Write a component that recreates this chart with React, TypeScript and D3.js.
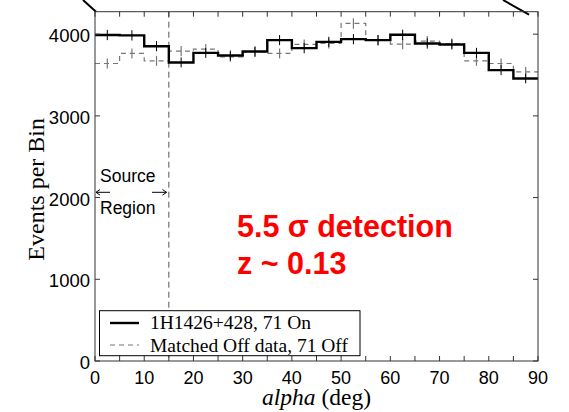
import React from "react";
import * as d3 from "d3";

// Bin lower edges (deg), bin width 5
const binEdges = [0, 5, 10, 15, 20, 25, 30, 35, 40, 45, 50, 55, 60, 65, 70, 75, 80, 85];
const binWidth = 5;
// On-source counts per bin
const onCounts = [3990, 3985, 3853, 3654, 3771, 3739, 3788, 3927, 3829, 3906, 3939, 3927, 3992, 3886, 3874, 3771, 3560, 3458];
const onErr = [63, 63, 62, 61, 61, 61, 61, 62, 63, 62, 62, 63, 63, 63, 62, 62, 61, 60];
// Matched Off data counts per bin
const offCounts = [3641, 3764, 3674, 3792, 3817, 3722, 3784, 3764, 3874, 3886, 4131, 3927, 3878, 3914, 3886, 3674, 3641, 3539];
const offErr = [60, 61, 61, 62, 62, 61, 62, 61, 62, 62, 64, 63, 62, 63, 62, 61, 60, 59];

const xTicks = [0, 10, 20, 30, 40, 50, 60, 70, 80, 90];
const xMinorTicks = [5, 15, 25, 35, 45, 55, 65, 75, 85];
const yTicks = [0, 1000, 2000, 3000, 4000];
const cutValue = 15;

const legendLabels = ["1H1426+428, 71 On", "Matched Off data, 71 Off"];
const annotation = ["5.5 \u03c3 detection", "z ~ 0.13"];

export default function App() {
  const left = 95, right = 538, top = 11.7, bottom = 361;
  const x = d3.scaleLinear().domain([0, 90]).range([left, right]);
  const y = d3.scaleLinear().domain([0, 4275]).range([bottom, top]);

  const stepPts = (vals: number[]) => {
    const pts = binEdges.map((e, i) => [e, vals[i]] as [number, number]);
    pts.push([binEdges[binEdges.length - 1] + binWidth, vals[vals.length - 1]]);
    return pts;
  };
  const line = d3
    .line<[number, number]>()
    .x((d) => x(d[0]))
    .y((d) => y(d[1]))
    .curve(d3.curveStepAfter);

  const sans = "'Liberation Sans', Arial, Helvetica, sans-serif";
  const serif = "'Liberation Serif', 'Times New Roman', Times, serif";
  const frame = "#333";

  return (
    <svg
      width={569}
      height={412}
      style={{ position: "absolute", left: 0, top: 0, background: "#fff" }}
    >
      {/* corner decorations */}
      <line x1={83} y1={0} x2={96} y2={11.7} stroke="#000" strokeWidth={2} />
      <line x1={503} y1={0} x2={529} y2={14.7} stroke="#000" strokeWidth={2} />

      {/* cut line */}
      <line
        x1={x(cutValue)}
        x2={x(cutValue)}
        y1={top}
        y2={bottom}
        stroke="#555"
        strokeWidth={1}
        strokeDasharray="6,4"
      />

      {/* Off histogram */}
      <path
        d={line(stepPts(offCounts)) || ""}
        fill="none"
        stroke="#777"
        strokeWidth={1.2}
        strokeDasharray="5,4"
      />
      {binEdges.map((e, i) => (
        <line
          key={"offe" + i}
          x1={x(e + binWidth / 2)}
          x2={x(e + binWidth / 2)}
          y1={y(offCounts[i] - offErr[i])}
          y2={y(offCounts[i] + offErr[i])}
          stroke="#777"
          strokeWidth={1.2}
        />
      ))}

      {/* On histogram */}
      <path
        d={line(stepPts(onCounts)) || ""}
        fill="none"
        stroke="#000"
        strokeWidth={2.4}
      />
      {binEdges.map((e, i) => (
        <line
          key={"one" + i}
          x1={x(e + binWidth / 2)}
          x2={x(e + binWidth / 2)}
          y1={y(onCounts[i] - onErr[i])}
          y2={y(onCounts[i] + onErr[i])}
          stroke="#000"
          strokeWidth={1}
        />
      ))}

      {/* frame */}
      <rect
        x={left}
        y={top}
        width={right - left}
        height={bottom - top}
        fill="none"
        stroke={frame}
        strokeWidth={1}
      />

      {/* x ticks */}
      {[...xTicks, ...xMinorTicks].map((t) => (
        <g key={"xt" + t}>
          <line x1={x(t)} x2={x(t)} y1={bottom} y2={bottom - 5} stroke={frame} />
          <line x1={x(t)} x2={x(t)} y1={top} y2={top + 5} stroke={frame} />
        </g>
      ))}
      {xTicks.map((t) => (
        <text
          key={"xl" + t}
          x={x(t)}
          y={384}
          textAnchor="middle"
          fontFamily={sans}
          fontSize={18}
          fill="#000"
        >
          {t}
        </text>
      ))}

      {/* y ticks */}
      {yTicks.map((t) => (
        <g key={"yt" + t}>
          <line x1={left} x2={left + 5} y1={y(t)} y2={y(t)} stroke={frame} />
          <line x1={right} x2={right - 5} y1={y(t)} y2={y(t)} stroke={frame} />
          <text
            x={90}
            y={y(t) + 8}
            textAnchor="end"
            fontFamily={sans}
            fontSize={18.5}
            fill="#000"
          >
            {t}
          </text>
        </g>
      ))}

      {/* axis titles */}
      <text
        x={(left + right) / 2}
        y={405}
        textAnchor="middle"
        fontFamily={serif}
        fontSize={23.5}
        fill="#000"
      >
        <tspan fontStyle="italic">alpha</tspan> (deg)
      </text>
      <text
        transform={`translate(44,${(top + bottom) / 2 + 3}) rotate(-90)`}
        textAnchor="middle"
        fontFamily={serif}
        fontSize={24}
        fill="#000"
      >
        Events per Bin
      </text>

      {/* source region annotation */}
      <text x={100} y={181.7} fontFamily={sans} fontSize={17.5} fill="#000">
        Source
      </text>
      <text x={100} y={214} fontFamily={sans} fontSize={17.5} fill="#000">
        Region
      </text>
      <g stroke="#000" strokeWidth={1} fill="none">
        <line x1={96} x2={110} y1={192.3} y2={192.3} />
        <polyline points="100,189.5 96,192.3 100,195.1" />
        <line x1={152} x2={166.5} y1={192.3} y2={192.3} />
        <polyline points="162.5,189.5 166.5,192.3 162.5,195.1" />
      </g>

      {/* detection annotation */}
      <g fontFamily={sans} fontWeight="bold" fontSize={30.5} fill="#ff0000">
        <text x={237} y={236.7}>
          {annotation[0]}
        </text>
        <text x={237} y={274}>
          {annotation[1]}
        </text>
      </g>

      {/* legend */}
      <rect x={99.5} y={310.7} width={260.5} height={45} fill="#fff" stroke="#000" strokeWidth={1} />
      <line x1={110} x2={139} y1={323} y2={323} stroke="#000" strokeWidth={2.4} />
      <line x1={110} x2={139} y1={345} y2={345} stroke="#777" strokeWidth={1.2} strokeDasharray="5,4" />
      <text x={150} y={329.3} fontFamily={serif} fontSize={19.5} fill="#000">
        {legendLabels[0]}
      </text>
      <text x={150} y={351.5} fontFamily={serif} fontSize={19.5} fill="#000">
        {legendLabels[1]}
      </text>
    </svg>
  );
}
